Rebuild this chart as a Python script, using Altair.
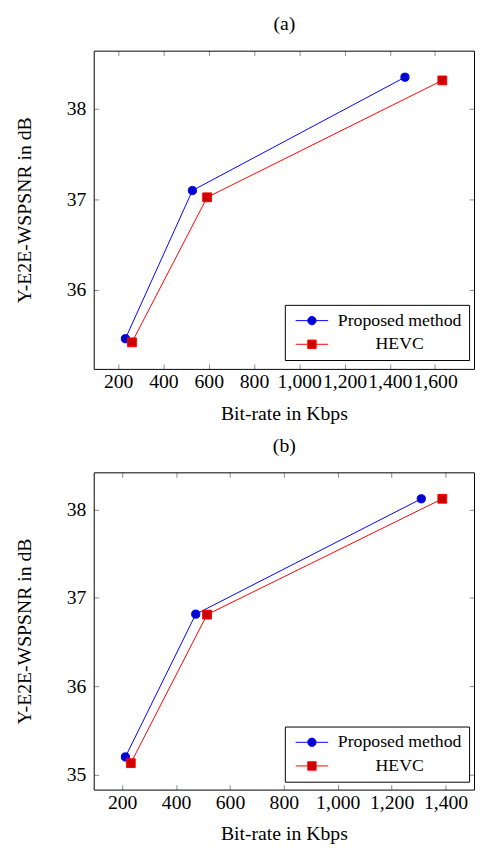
import altair as alt
import pandas as pd

series_names = ["Proposed method", "HEVC"]

# panel (a)
a_prop_rate = [232, 528, 1467]
a_prop_psnr = [35.46, 37.095, 38.345]
a_hevc_rate = [261, 593, 1632]
a_hevc_psnr = [35.42, 37.02, 38.31]
a_xticks = [200, 400, 600, 800, 1000, 1200, 1400, 1600]
a_yticks = [36, 37, 38]
a_xdom = [92, 1772]
a_ydom = [35.127, 38.638]

# panel (b)
b_prop_rate = [212, 473, 1310]
b_prop_psnr = [35.20, 36.815, 38.12]
b_hevc_rate = [232, 515, 1388]
b_hevc_psnr = [35.13, 36.81, 38.12]
b_xticks = [200, 400, 600, 800, 1000, 1200, 1400]
b_yticks = [35, 36, 37, 38]
b_xdom = [94.4, 1505.6]
b_ydom = [34.831, 38.419]

FONT = "Liberation Serif"
TICK_FS = 20
TITLE_FS = 20
LEG_FS = 18
TICK_COLOR = "#8a8a8a"
W = 386
HA = 323          # height of panel (a)
YB = 428          # top of panel (b)
HB = 322          # height of panel (b)
HT = YB + HB

path_circle = "M-3.3,0L-0.85,0M0.85,0L3.3,0M0.85,0A0.85,0.85,0,1,1,-0.85,0A0.85,0.85,0,1,1,0.85,0Z"
path_square = "M-3.3,0L-0.85,0M0.85,0L3.3,0M-0.85,-0.85L0.85,-0.85L0.85,0.85L-0.85,0.85Z"


def panel_layers(p_rate, p_psnr, h_rate, h_psnr, xdom, ydom, xticks, yticks, top_y, bottom_y, top_title):
    df = pd.DataFrame({
        "rate": p_rate + h_rate,
        "psnr": p_psnr + h_psnr,
        "series": [series_names[0]] * len(p_rate) + [series_names[1]] * len(h_rate),
        "order": list(range(len(p_rate))) + list(range(len(h_rate))),
    })
    xs = alt.Scale(domain=xdom, nice=False, zero=False)
    ys = alt.Scale(domain=ydom, nice=False, zero=False, range=[bottom_y, top_y])
    bot = bottom_y - HT
    tick = dict(tickSize=5, domain=False, grid=False, tickColor=TICK_COLOR, tickWidth=1)
    border = dict(domain=True, ticks=False, labels=False, grid=False, domainColor="black", domainWidth=1)

    x_labels = alt.X("rate:Q", scale=xs, title="Bit-rate in Kbps",
                     axis=alt.Axis(orient="bottom", offset=bot - 5, values=xticks, format=",d",
                                   labelOverlap=False, labelFlush=False, labelBound=False,
                                   labelPadding=3, titlePadding=12, **tick))
    y_labels = alt.Y("psnr:Q", scale=ys, title="Y-E2E-WSPSNR in dB",
                     axis=alt.Axis(orient="left", offset=-5, values=yticks, format="d",
                                   labelPadding=8, titlePadding=32, **tick))
    x_top_ticks = alt.X("rate:Q", scale=xs, axis=alt.Axis(orient="top", offset=-(top_y + 5), values=xticks,
                                                         labels=False, title=None, **tick))
    y_right_ticks = alt.Y("psnr:Q", scale=ys, axis=alt.Axis(orient="right", offset=-5, values=yticks,
                                                           labels=False, title=None, **tick))
    x_bottom_border = alt.X("rate:Q", scale=xs, axis=alt.Axis(orient="bottom", offset=bot, title=None, **border))
    y_left_border = alt.Y("psnr:Q", scale=ys, axis=alt.Axis(orient="left", offset=0, title=None, **border))
    x_top_border = alt.X("rate:Q", scale=xs, title=top_title,
                         axis=alt.Axis(orient="top", offset=-top_y, titlePadding=17, **border))
    y_right_border = alt.Y("psnr:Q", scale=ys, axis=alt.Axis(orient="right", offset=0, title=None, **border))

    base = alt.Chart(df)
    lines = base.mark_line(strokeWidth=1).encode(
        x=x_labels, y=y_labels,
        color=alt.Color("series:N", scale=alt.Scale(domain=series_names, range=["#0000ff", "#ff0000"]), legend=None),
        order="order:Q",
    )
    circles = base.transform_filter(alt.datum.series == series_names[0]).mark_point(
        shape="circle", size=70, fill="#0000cc", stroke="#0000ff", strokeWidth=1, opacity=1, fillOpacity=1
    ).encode(x=x_top_ticks, y=y_right_ticks)
    squares = base.transform_filter(alt.datum.series == series_names[1]).mark_point(
        shape="square", size=80, fill="#cc0000", stroke="#ff0000", strokeWidth=1, opacity=1, fillOpacity=1
    ).encode(x=x_bottom_border, y=y_left_border)

    leg = alt.Legend(title=None, orient="none", legendX=194, legendY=top_y + 258, padding=7,
                     strokeColor="black", fillColor="white",
                     labelFont=FONT, labelFontSize=LEG_FS, labelColor="black",
                     labelAlign="center", labelOffset=80, symbolOffset=11.5,
                     symbolSize=100, symbolStrokeWidth=1, symbolOpacity=1, rowPadding=6)
    legend_layer = base.transform_filter("false").mark_point(strokeWidth=1).encode(
        x=x_top_border, y=y_right_border,
        shape=alt.Shape("series:N", scale=alt.Scale(domain=series_names, range=[path_circle, path_square]), legend=leg),
        fill=alt.Fill("series:N", scale=alt.Scale(domain=series_names, range=["#0000cc", "#cc0000"]), legend=leg),
        stroke=alt.Stroke("series:N", scale=alt.Scale(domain=series_names, range=["#0000ff", "#ff0000"]), legend=leg),
    )
    return [lines, circles, squares, legend_layer]


layers = (panel_layers(a_prop_rate, a_prop_psnr, a_hevc_rate, a_hevc_psnr, a_xdom, a_ydom, a_xticks, a_yticks,
                       0, HA, "(a)")
          + panel_layers(b_prop_rate, b_prop_psnr, b_hevc_rate, b_hevc_psnr, b_xdom, b_ydom, b_xticks, b_yticks,
                         YB, HT, "(b)"))

chart = alt.layer(*layers).resolve_scale(
    x="independent", y="independent", color="independent",
    shape="independent", fill="independent", stroke="independent"
).resolve_axis(
    x="independent", y="independent"
).resolve_legend(
    shape="independent", fill="independent", stroke="independent"
).properties(
    width=W, height=HT,
    background="white", padding={"left": 7, "top": 0, "right": 0, "bottom": 0},
).configure_view(
    stroke=None
).configure_axis(
    labelFont=FONT, titleFont=FONT, labelFontSize=TICK_FS, titleFontSize=TITLE_FS,
    labelColor="black", titleColor="black", titleFontWeight="normal",
)

chart.save("out.html", embed_options={"renderer": "svg", "actions": False})
